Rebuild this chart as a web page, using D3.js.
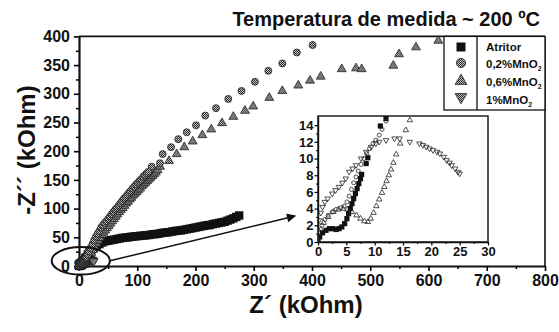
<!DOCTYPE html>
<html>
<head>
<meta charset="utf-8">
<script src="https://cdn.jsdelivr.net/npm/d3@7"></script>
<style>
  body { margin: 0; background: #fff; }
  text { font-family: "Liberation Sans", Arial, sans-serif; font-weight: bold; }
</style>
</head>
<body>
<div id="chart"></div>
<script>
// Series data: [Z', -Z''] in kOhm
var atritorPts = [[0,0],[0.3,0.6],[0.8,1.1],[1.4,1.4],[2,1.6],[2.6,1.6],[3.2,1.5],[3.7,1.6],[4.2,1.8],[4.7,2.2],
  [5.1,2.8],[5.4,3.4],[5.7,4],[6,4.6],[6.3,5.2],[6.6,5.8],[6.9,6.4],[7.2,7],[7.5,7.6],[7.7,8.1],[8.5,9.4],[8.8,10.1],
  [11,13.9],[12,14.8],[15,20],[18,24],[21,28],[25,32],[30,35],[35,38],[40,41],[45,43],[50,44],[55,45],[60,46],
  [65,47],[70,48],[75,49],[80,49.5],[85,50],[90,51],[95,51.5],[100,52],[105,52.5],[110,53],[115,53.5],[120,54],
  [125,55],[130,55.5],[135,56],[140,57],[145,58],[150,58.5],[155,59],[160,60],[165,61],[170,61.5],[175,62],
  [180,63],[185,64],[190,65],[195,66],[200,67],[205,68],[210,69],[215,70],[220,71],[225,71.5],[230,73],[235,74],
  [240,75],[245,76],[250,77],[255,79],[260,81],[265,83],[270,85.5],[275,88]];

var mn02Pts = [[0,0.3],[0.3,1.2],[0.7,2],[1.2,2.7],[1.8,3.2],[2.5,3.6],[3.2,3.9],[4,4.1],[4.6,4.3],[5.1,4.8],
  [5.5,5.5],[5.9,6.3],[6.3,7.1],[6.7,7.8],[7.1,8.5],[7.6,9.3],[8.1,10],[8.6,10.6],[9.1,11.2],[9.7,11.8],[10.2,12.2],
  [10.8,12.8],[11.3,13.5],[12,14.5],[13,16],[15,20],[17,25],[20,31],[23,38],[26,45],[29,51],[32,56],[35,61],
  [38,67],[41,71],[44,75],[47,78],[50,82],[53,86],[56,90],[59,94],[62,98],[65,101],[68,105],[71,109],[74,113],
  [77,117],[80,120],[83,124],[86,128],[89,131],[92,135],[95,138],[98,142],[101,145],[104,148],[107,151],[110,155],
  [113,158],[116,161],[119,164],[124.8,173],[139,179],[143.7,195],[158,207],[170.5,221],[184.9,233],[200.9,245],
  [216.8,262],[235.2,275],[256.3,291],[279,305],[302,321],[325,340],[349,353],[374,372],[401,385]];

var mn06Pts = [[0,0],[0.5,1.5],[1,2.3],[1.8,3],[2.7,3.6],[3.6,3.9],[4.4,4],[5.2,3.9],[6,3.6],[6.8,3.2],[7.5,2.8],
  [8.2,2.5],[8.8,2.4],[9.3,2.8],[9.8,3.5],[10.3,4.3],[10.8,5.1],[11.3,5.9],[11.7,6.6],[12.1,7.3],[12.5,8],
  [12.9,8.7],[13.3,9.5],[13.8,10.5],[14.5,11.8],[15.5,13.4],[16.2,14.6],[18,18],[21,23],[24,28],[27,33],[30,39],
  [33,44],[36,49],[39,54],[42,58],[45,62],[48,66],[51,70],[54,74],[57,78],[60,82],[63,86],[66,90],[69,94],[72,98],
  [75,101],[78,105],[81,109],[84,112],[87,116],[90,119],[93,123],[96,126],[99,129],[102,132],[105,135],[108,139],
  [111,142],[114,145],[117,148],[120,151],[123,154],[126,157],[129,160],[132,163],[135,167],[139,173],[154.5,183],
  [167.7,195],[180.8,207],[195.2,217],[211.7,228],[227.1,238],[245.5,249],[265,260],[285,270.5],[299,278],
  [326.7,293],[349,305],[376.5,314.5],[396.6,323],[415,330],[451,343],[475.5,344.5],[485.3,343],[539.6,349],
  [549.4,369],[578.5,381],[616.8,392.5]];

var mn1Pts = [[0,0.5],[0.2,2.6],[0.5,3.5],[0.8,4.2],[1.2,4.8],[1.7,5.2],[2.5,5.8],[3.1,6.2],[3.7,6.6],[4.3,7.1],
  [4.9,7.6],[5.5,8.4],[6.1,8.8],[6.7,9.2],[7.6,10],[8.5,10.8],[9.4,11.4],[10.2,11.8],[10.8,12],[12,12.2],[13.5,12.4],
  [14.4,12.4],[16.2,12],[17.9,11.8],[18.5,11.6],[19.1,11.4],[19.7,11.2],[20.3,11],[21,10.8],[21.5,10.6],[22.2,10.2],
  [22.7,9.8],[23.2,9.5],[23.6,9.2],[24.2,8.8],[24.7,8.4],[25,8.2]];

var xTicks = [0, 100, 200, 300, 400, 500, 600, 700, 800];
var yTicks = [0, 50, 100, 150, 200, 250, 300, 350, 400];
var insetXTicks = [0, 5, 10, 15, 20, 25, 30];
var insetYTicks = [0, 2, 4, 6, 8, 10, 12, 14];
var legendLabels = ["Atritor", "0,2%MnO", "0,6%MnO", "1%MnO"];

var svgWidth = 559, svgHeight = 332;

var svg = d3.select("#chart").append("svg")
  .attr("width", svgWidth)
  .attr("height", svgHeight);

// dithered grey fill like the scanned markers
var defs = svg.append("defs");
var pat = defs.append("pattern").attr("id", "dots")
  .attr("width", 2).attr("height", 2).attr("patternUnits", "userSpaceOnUse");
pat.append("rect").attr("width", 2).attr("height", 2).attr("fill", "#c4c4c4");
pat.append("rect").attr("width", 1).attr("height", 1).attr("fill", "#2a2a2a");
pat.append("rect").attr("x", 1).attr("y", 1).attr("width", 1).attr("height", 1).attr("fill", "#2a2a2a");

var x = d3.scaleLinear().domain([0, 800]).range([79, 545]);
var y = d3.scaleLinear().domain([0, 400]).range([266, 36.4]);

// frame (top/right)
svg.append("line").attr("x1", x(0)).attr("x2", x(800)).attr("y1", y(400)).attr("y2", y(400))
  .attr("stroke", "#111").attr("stroke-width", 1.6);
svg.append("line").attr("x1", x(800)).attr("x2", x(800)).attr("y1", y(400)).attr("y2", y(0))
  .attr("stroke", "#111").attr("stroke-width", 1.6);

// minor ticks
svg.append("g").attr("transform", `translate(0,${y(0)})`)
  .call(d3.axisBottom(x).tickValues(d3.range(50, 800, 100)).tickSize(3).tickFormat(""))
  .call(g => g.select(".domain").remove())
  .selectAll("line").attr("stroke-width", 1.5);
svg.append("g").attr("transform", `translate(${x(0)},0)`)
  .call(d3.axisLeft(y).tickValues(d3.range(25, 400, 50)).tickSize(3).tickFormat(""))
  .call(g => g.select(".domain").remove())
  .selectAll("line").attr("stroke-width", 1.5);

// main axes
var xAxis = svg.append("g").attr("transform", `translate(0,${y(0)})`)
  .call(d3.axisBottom(x).tickValues(xTicks).tickSize(5).tickSizeOuter(0).tickPadding(4));
var yAxis = svg.append("g").attr("transform", `translate(${x(0)},0)`)
  .call(d3.axisLeft(y).tickValues(yTicks).tickSize(5).tickSizeOuter(0).tickPadding(4));
[xAxis, yAxis].forEach(function(a) {
  a.attr("font-size", 16).attr("font-family", null);
  a.select(".domain").attr("stroke-width", 2.2).attr("stroke", "#111");
  a.selectAll(".tick line").attr("stroke-width", 1.6);
  a.selectAll("text").attr("fill", "#111");
});

var main = svg.append("g");

main.selectAll("rect.atr").data(atritorPts).enter().append("rect")
  .attr("class", "atr")
  .attr("x", d => x(d[0]) - 4.2).attr("y", d => y(d[1]) - 4.2)
  .attr("width", 8.4).attr("height", 8.4).attr("fill", "#111");

main.selectAll("path.m06").data(mn06Pts).enter().append("path")
  .attr("class", "m06")
  .attr("transform", d => `translate(${x(d[0])},${y(d[1])})`)
  .attr("d", d3.symbol().type(d3.symbolTriangle).size(34))
  .attr("fill", "url(#dots)").attr("stroke", "#222").attr("stroke-width", 0.8);

main.selectAll("path.m1").data(mn1Pts).enter().append("path")
  .attr("class", "m1")
  .attr("transform", d => `translate(${x(d[0])},${y(d[1])}) rotate(180)`)
  .attr("d", d3.symbol().type(d3.symbolTriangle).size(34))
  .attr("fill", "url(#dots)").attr("stroke", "#222").attr("stroke-width", 0.8);

main.selectAll("circle.m02").data(mn02Pts).enter().append("circle")
  .attr("class", "m02")
  .attr("cx", d => x(d[0])).attr("cy", d => y(d[1])).attr("r", 3.5)
  .attr("fill", "url(#dots)").attr("stroke", "#222").attr("stroke-width", 0.8);

// ellipse around origin and arrow to inset
svg.append("ellipse")
  .attr("cx", x(3)).attr("cy", y(9))
  .attr("rx", x(50) - x(0)).attr("ry", y(0) - y(24))
  .attr("fill", "none").attr("stroke", "#111").attr("stroke-width", 2);

defs.append("marker").attr("id", "arrow")
  .attr("viewBox", "0 0 10 10").attr("refX", 9).attr("refY", 5)
  .attr("markerWidth", 7).attr("markerHeight", 6).attr("orient", "auto")
  .append("path").attr("d", "M0,0 L10,5 L0,10 Z").attr("fill", "#111");

svg.append("line")
  .attr("x1", x(53)).attr("y1", y(9)).attr("x2", x(371)).attr("y2", y(87))
  .attr("stroke", "#111").attr("stroke-width", 1.5)
  .attr("marker-end", "url(#arrow)");

// inset
var ix = d3.scaleLinear().domain([0, 30]).range([318, 488]);
var iy = d3.scaleLinear().domain([0, 15.1]).range([242, 116]);

svg.append("rect").attr("x", ix(0)).attr("y", iy(15.1))
  .attr("width", ix(30) - ix(0)).attr("height", iy(0) - iy(15.1))
  .attr("fill", "#fff").attr("stroke", "#111").attr("stroke-width", 1.4);

defs.append("clipPath").attr("id", "insetClip").append("rect")
  .attr("x", ix(0)).attr("y", iy(15.1))
  .attr("width", ix(30) - ix(0)).attr("height", iy(0) - iy(15.1));

svg.append("g").attr("transform", `translate(0,${iy(0)})`)
  .call(d3.axisBottom(ix).tickValues(d3.range(2.5, 30, 5)).tickSize(2).tickFormat(""))
  .call(g => g.select(".domain").remove());
svg.append("g").attr("transform", `translate(${ix(0)},0)`)
  .call(d3.axisLeft(iy).tickValues(d3.range(1, 15, 2)).tickSize(2).tickFormat(""))
  .call(g => g.select(".domain").remove());

var ixAxis = svg.append("g").attr("transform", `translate(0,${iy(0)})`)
  .call(d3.axisBottom(ix).tickValues(insetXTicks).tickSize(3.5).tickSizeOuter(0).tickPadding(1.5));
var iyAxis = svg.append("g").attr("transform", `translate(${ix(0)},0)`)
  .call(d3.axisLeft(iy).tickValues(insetYTicks).tickSize(3.5).tickSizeOuter(0).tickPadding(1));
[ixAxis, iyAxis].forEach(function(a) {
  a.attr("font-size", 13).attr("font-family", null);
  a.select(".domain").attr("stroke-width", 1.4).attr("stroke", "#111");
  a.selectAll(".tick line").attr("stroke-width", 1.2);
  a.selectAll("text").attr("fill", "#111");
});

var inset = svg.append("g").attr("clip-path", "url(#insetClip)");
function inRange(d) { return d[0] <= 30 && d[1] <= 15.3; }

inset.selectAll("rect").data(atritorPts.filter(inRange)).enter().append("rect")
  .attr("x", d => ix(d[0]) - 2.6).attr("y", d => iy(d[1]) - 2.6)
  .attr("width", 5.2).attr("height", 5.2).attr("fill", "#111");

inset.selectAll("circle").data(mn02Pts.filter(inRange)).enter().append("circle")
  .attr("cx", d => ix(d[0])).attr("cy", d => iy(d[1])).attr("r", 2)
  .attr("fill", "none").attr("stroke", "#222").attr("stroke-width", 0.8);

inset.selectAll("path.t").data(mn06Pts.filter(inRange)).enter().append("path")
  .attr("class", "t")
  .attr("transform", d => `translate(${ix(d[0])},${iy(d[1])})`)
  .attr("d", d3.symbol().type(d3.symbolTriangle).size(13))
  .attr("fill", "none").attr("stroke", "#222").attr("stroke-width", 0.8);

inset.selectAll("path.v").data(mn1Pts.filter(inRange)).enter().append("path")
  .attr("class", "v")
  .attr("transform", d => `translate(${ix(d[0])},${iy(d[1])}) rotate(180)`)
  .attr("d", d3.symbol().type(d3.symbolTriangle).size(13))
  .attr("fill", "none").attr("stroke", "#222").attr("stroke-width", 0.8);

// legend
var lg = svg.append("g");
lg.append("rect").attr("x", 444).attr("y", y(400))
  .attr("width", x(800) - 444).attr("height", 110 - y(400))
  .attr("fill", "#fff").attr("stroke", "#111").attr("stroke-width", 1.3);
lg.append("line").attr("x1", 477).attr("x2", 477).attr("y1", y(400)).attr("y2", 110)
  .attr("stroke", "#111").attr("stroke-width", 1.3);

var legY = [47, 63, 81, 97];
var textY = [51, 68, 86, 104];
lg.append("rect").attr("x", 461 - 4.5).attr("y", legY[0] - 4.5).attr("width", 9).attr("height", 9).attr("fill", "#111");
lg.append("circle").attr("cx", 461).attr("cy", legY[1]).attr("r", 4.6)
  .attr("fill", "url(#dots)").attr("stroke", "#222").attr("stroke-width", 0.8);
lg.append("path").attr("transform", `translate(461,${legY[2]})`)
  .attr("d", d3.symbol().type(d3.symbolTriangle).size(60))
  .attr("fill", "url(#dots)").attr("stroke", "#222").attr("stroke-width", 0.8);
lg.append("path").attr("transform", `translate(461,${legY[3]}) rotate(180)`)
  .attr("d", d3.symbol().type(d3.symbolTriangle).size(60))
  .attr("fill", "url(#dots)").attr("stroke", "#222").attr("stroke-width", 0.8);

legendLabels.forEach(function(lab, i) {
  var t = lg.append("text").attr("x", 486).attr("y", textY[i])
    .attr("font-size", 11.5).attr("fill", "#111").text(lab);
  if (i > 0) {
    t.append("tspan").attr("font-size", 7).attr("dy", 3).text("2");
  }
});

// titles
svg.append("text").attr("x", 540).attr("y", 26).attr("text-anchor", "end")
  .attr("font-size", 20).attr("fill", "#111")
  .text("Temperatura de medida ~ 200 ºC");

svg.append("text").attr("x", 306).attr("y", 313).attr("text-anchor", "middle")
  .attr("font-size", 24).attr("fill", "#111")
  .text("Z´ (kOhm)");

svg.append("text").attr("transform", "translate(35,150) rotate(-90)")
  .attr("text-anchor", "middle").attr("font-size", 24).attr("fill", "#111")
  .text("-Z´´ (kOhm)");
</script>
</body>
</html>
